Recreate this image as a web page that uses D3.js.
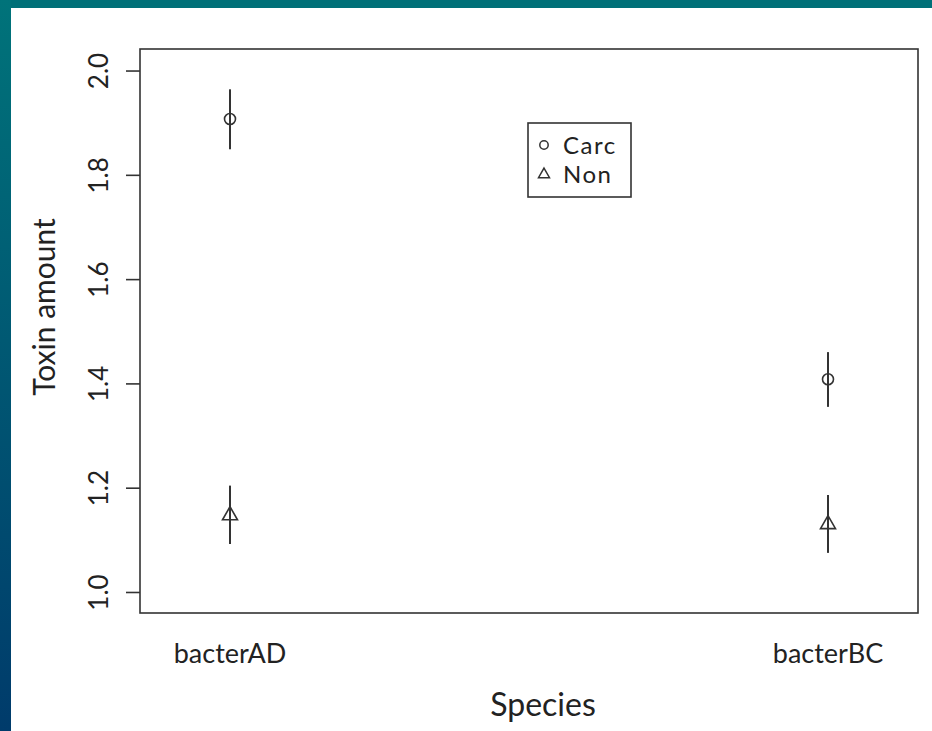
<!DOCTYPE html>
<html>
<head>
<meta charset="utf-8">
<script src="https://cdn.jsdelivr.net/npm/d3@7"></script>
<style>
  html, body { margin: 0; padding: 0; background: #fff; }
  svg { display: block; }
  text { font-family: Lato, "Open Sans", sans-serif; fill: #222; }
</style>
</head>
<body>
<svg id="chart" width="932" height="731"></svg>
<script>
// ---- data ----
const species = ["bacterAD", "bacterBC"];
const groups = ["Carc", "Non"];
const carcMean = [1.907, 1.408];
const carcLow  = [1.849, 1.355];
const carcHigh = [1.964, 1.460];
const nonMean  = [1.148, 1.131];
const nonLow   = [1.092, 1.075];
const nonHigh  = [1.204, 1.186];
const yTicks = [1.0, 1.2, 1.4, 1.6, 1.8, 2.0];
const xTitle = "Species";
const yTitle = "Toxin amount";

const svg = d3.select("#chart");
const W = 932, H = 731;

// frame background (teal / blue gradient edges)
const defs = svg.append("defs");
const grad = defs.append("linearGradient").attr("id", "side").attr("x1", 0).attr("y1", 0).attr("x2", 0).attr("y2", 1);
grad.append("stop").attr("offset", "0%").attr("stop-color", "#00737a");
grad.append("stop").attr("offset", "100%").attr("stop-color", "#003b6b");
svg.append("rect").attr("x", 0).attr("y", 0).attr("width", W).attr("height", 8).attr("fill", "#007078");
svg.append("rect").attr("x", 0).attr("y", 0).attr("width", 11).attr("height", H).attr("fill", "url(#side)");

const plot = { left: 140, right: 918, top: 49, bottom: 613 };

const x = d3.scalePoint().domain(species).range([plot.left, plot.right]).padding(0.1505);
const y = d3.scaleLinear().domain([0.9597, 2.0413]).range([plot.bottom, plot.top]);

const ink = "#333";

// box
svg.append("rect")
  .attr("x", plot.left).attr("y", plot.top)
  .attr("width", plot.right - plot.left).attr("height", plot.bottom - plot.top)
  .attr("fill", "none").attr("stroke", ink).attr("stroke-width", 1.6);

// y axis
const yAxis = d3.axisLeft(y).tickValues(yTicks).tickFormat(d3.format(".1f")).tickSize(14).tickSizeOuter(0);
const gy = svg.append("g").attr("transform", `translate(${plot.left},0)`).call(yAxis);
gy.select(".domain").remove();
gy.selectAll(".tick line").attr("stroke", ink).attr("stroke-width", 1.6);
gy.selectAll(".tick text")
  .attr("x", 0).attr("y", 0).attr("dy", 0)
  .attr("transform", "translate(-42,0) rotate(-90)")
  .attr("text-anchor", "middle")
  .attr("dominant-baseline", "central")
  .style("font-size", "26px").style("font-family", "Lato, sans-serif").attr("fill", "#222");

// x labels (no ticks)
const gx = svg.append("g");
gx.selectAll("text").data(species).join("text")
  .attr("x", d => x(d)).attr("y", 663)
  .attr("text-anchor", "middle")
  .style("font-size", "27px")
  .text(d => d);

// axis titles
svg.append("text").attr("x", 543).attr("y", 716).attr("text-anchor", "middle")
  .style("font-size", "32px").text(xTitle);
svg.append("text").attr("transform", "translate(55,307) rotate(-90)").attr("text-anchor", "middle")
  .style("font-size", "30px").text(yTitle);

// error bars and points
const series = [
  { name: groups[0], mean: carcMean, lo: carcLow, hi: carcHigh, shape: "circle" },
  { name: groups[1], mean: nonMean, lo: nonLow, hi: nonHigh, shape: "triangle" }
];
const triPath = (cx, cy, r) => {
  const h = r * 1.75;
  return `M${cx},${cy - h * 0.62}L${cx + r},${cy + h * 0.38}L${cx - r},${cy + h * 0.38}Z`;
};
series.forEach(s => {
  species.forEach((sp, i) => {
    const cx = x(sp);
    svg.append("line").attr("x1", cx).attr("x2", cx)
      .attr("y1", y(s.lo[i])).attr("y2", y(s.hi[i]))
      .attr("stroke", ink).attr("stroke-width", 2);
    if (s.shape === "circle") {
      svg.append("circle").attr("cx", cx).attr("cy", y(s.mean[i])).attr("r", 5.5)
        .attr("fill", "none").attr("stroke", ink).attr("stroke-width", 1.6);
    } else {
      svg.append("path").attr("d", triPath(cx, y(s.mean[i]), 7.5))
        .attr("fill", "none").attr("stroke", ink).attr("stroke-width", 1.6);
    }
  });
});

// legend
const lg = svg.append("g");
lg.append("rect").attr("x", 528).attr("y", 123).attr("width", 103).attr("height", 74)
  .attr("fill", "#fff").attr("stroke", ink).attr("stroke-width", 1.6);
const rowGap = 29, row0 = 145;
series.forEach((s, i) => {
  const cy = row0 + i * rowGap;
  if (s.shape === "circle") {
    lg.append("circle").attr("cx", 544).attr("cy", cy).attr("r", 4.2)
      .attr("fill", "none").attr("stroke", ink).attr("stroke-width", 1.5);
  } else {
    lg.append("path").attr("d", triPath(544, cy, 5.5))
      .attr("fill", "none").attr("stroke", ink).attr("stroke-width", 1.5);
  }
  lg.append("text").attr("x", 563).attr("y", cy + 8.5)
    .style("font-size", "24px").style("letter-spacing", "1.5px").text(s.name);
});
</script>
</body>
</html>
